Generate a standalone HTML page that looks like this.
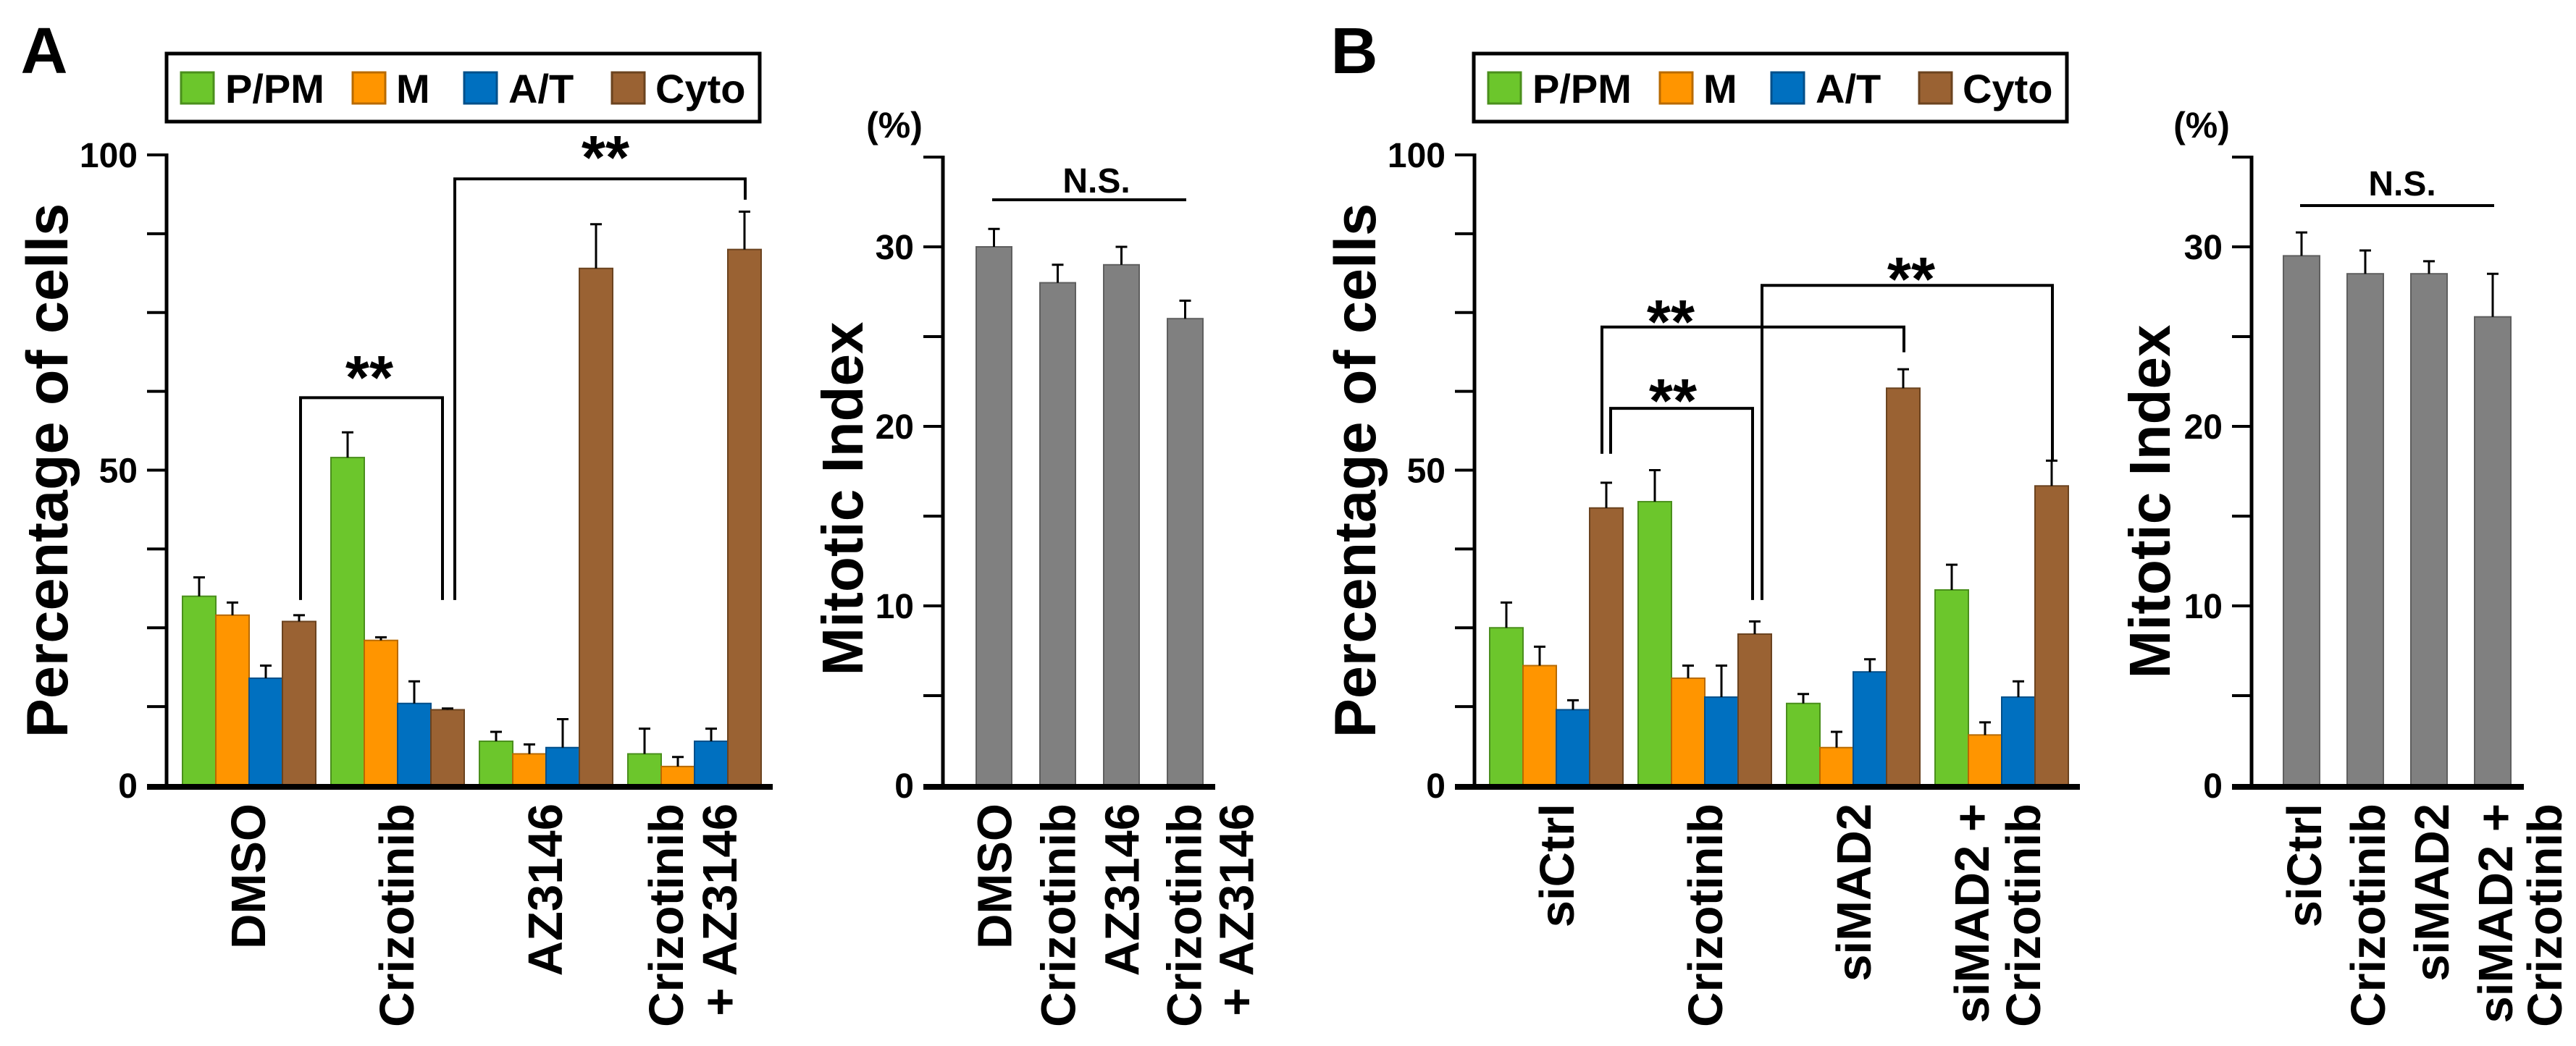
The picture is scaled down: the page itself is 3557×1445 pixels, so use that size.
<!DOCTYPE html>
<html><head><meta charset="utf-8"><style>
html,body{margin:0;padding:0;background:#fff;}
svg{display:block;font-family:"Liberation Sans",Arial,sans-serif;}
</style></head><body>
<svg id="fig" width="3557" height="1445" viewBox="0 0 3557 1445" xmlns="http://www.w3.org/2000/svg"></svg>
<script>
// ---------- data ----------
const seriesNames = ['P/PM','M','A/T','Cyto'];
const seriesColors = ['#6cc62c','#ff9500','#0070c0','#9a6233'];
const seriesEdges = ['#4a8f1c','#b86a00','#004f8a','#6b431f'];

const aCategories = [['DMSO'],['Crizotinib'],['AZ3146'],['Crizotinib','+ AZ3146']];
const aPPM = [30,52,7,5];
const aM = [27,23,5,3];
const aAT = [17,13,6,7];
const aCyto = [26,12,82,85];
const aPPMErr = [3,4,1.5,4];
const aMErr = [2,0.5,1.5,1.5];
const aATErr = [2,3.5,4.5,2];
const aCytoErr = [1,0.2,7,6];

const bCategories = [['siCtrl'],['Crizotinib'],['siMAD2'],['siMAD2 +','Crizotinib']];
const bPPM = [25,45,13,31];
const bM = [19,17,6,8];
const bAT = [12,14,18,14];
const bCyto = [44,24,63,47.5];
const bPPMErr = [4,5,1.5,4];
const bMErr = [3,2,2.5,2];
const bATErr = [1.5,5,2,2.5];
const bCytoErr = [4,2,3,4];

const pctTicks = [0,12.5,25,37.5,50,62.5,75,87.5,100];
const pctTickLabels = {0:'0',50:'50',100:'100'};
const miTicks = [0,5,10,15,20,25,30,35];
const miTickLabels = {0:'0',10:'10',20:'20',30:'30'};

const aMitotic = [30,28,29,26];
const aMitoticErr = [1,1,1,1];
const bMitotic = [29.5,28.5,28.5,26.1];
const bMitoticErr = [1.3,1.3,0.7,2.4];

// ---------- helpers ----------
const NS='http://www.w3.org/2000/svg';
const svg=document.getElementById('fig');
function el(tag,attrs,parent){const e=document.createElementNS(NS,tag);for(const k in attrs)e.setAttribute(k,attrs[k]);(parent||svg).appendChild(e);return e;}
function txt(str,x,y,fs,anchor,parent,extra){const t=el('text',Object.assign({x:x,y:y,'font-size':fs,'text-anchor':anchor||'start','font-weight':'bold',fill:'#000'},extra||{}),parent);t.textContent=str;return t;}

function drawGrouped(cfg){
  const g=el('g',{});
  
  
  const y=v=>cfg.y0-(v/cfg.max)*(cfg.y0-cfg.y100);
  const xBar=(gi,si)=>cfg.x0+gi*cfg.pitch+si*cfg.bw;
  cfg.series.forEach((vals,si)=>{
    vals.forEach((v,gi)=>{
      const x=xBar(gi,si);
      const r=el('rect',{x:x,y:y(v),width:cfg.bw,height:cfg.y0-y(v),fill:cfg.colors[si],stroke:cfg.edges[si],'stroke-width':2},g);
      
      
      const e=cfg.errs[si][gi];
      const cx=x+cfg.bw/2;
      const eb=el('path',{d:`M${cx},${y(v)} V${y(v+e)} M${cx-8},${y(v+e)} H${cx+8}`,stroke:'#000','stroke-width':3,fill:'none'},g);
      
      
    });
  });
  el('line',{x1:cfg.ax,y1:cfg.y0,x2:cfg.ax,y2:y(cfg.ticks[cfg.ticks.length-1])-2,stroke:'#000','stroke-width':5},g);
  el('line',{x1:cfg.ax-27,y1:cfg.y0+2,x2:cfg.axEnd,y2:cfg.y0+2,stroke:'#000','stroke-width':8},g);
  cfg.ticks.forEach(t=>{
    el('line',{x1:cfg.ax-27,y1:y(t),x2:cfg.ax,y2:y(t),stroke:'#000','stroke-width':4},g);
    if(cfg.tickLabels[t]!==undefined){
      const tl=txt(cfg.tickLabels[t],cfg.ax-40,y(t)+17,48,'end',g);
      
      
    }
  });
  const nb=cfg.series.length;
  cfg.cats.forEach((lines,gi)=>{
    const c=cfg.x0+gi*cfg.pitch+nb*cfg.bw/2;
    lines.forEach((ln,li)=>{
      const bx = lines.length>1 ? c+cfg.firstLine+li*cfg.lineGap : c+cfg.single;
      const t=txt(ln,0,0,67,'end',g,{transform:`translate(${bx},1110) rotate(-90)`});
      
      
    });
  });
  const yt=txt(cfg.title,0,0,cfg.titleSize,'middle',g,{transform:`translate(${cfg.titleX},${cfg.titleY}) rotate(-90)`});
  
  
  return {g,y,xBar};
}

function bracket(g,x1,yTop,x2,yL,yR,starsX,starsY,label,fs){
  const p=el('path',{d:`M${x1},${yL} V${yTop} H${x2} V${yR}`,stroke:'#000','stroke-width':4,fill:'none'},g);
  
  
  const t=txt(label,starsX,starsY,fs,'middle',g);
  
  
}

function legend(x,name){
  const g=el('g',{});
  
  
  el('rect',{x:x,y:74,width:819,height:94,fill:'#fff',stroke:'#000','stroke-width':5},g);
  const sw=[20,257,411,615];
  const tx=[81,317,472,675];
  seriesNames.forEach((n,i)=>{
    const r=el('rect',{x:x+sw[i],y:100,width:45,height:43,fill:seriesColors[i],stroke:seriesEdges[i],'stroke-width':3},g);
    
    
    const t=txt(n,x+tx[i],142,56,'start',g);
    
    
  });
}

// ---------- panel A ----------
const pa=txt('A',61,101,90,'middle',svg);

legend(230,'legend-a');
const A1=drawGrouped({name:'chart-a-phases',tag:'a',series:[aPPM,aM,aAT,aCyto],errs:[aPPMErr,aMErr,aATErr,aCytoErr],
  colors:seriesColors,edges:seriesEdges,cats:aCategories,x0:252,pitch:205,bw:46,ax:230,axEnd:1067,y0:1085,y100:214,max:100,
  ticks:pctTicks,tickLabels:pctTickLabels,title:'Percentage of cells',titleSize:81,titleX:93,titleY:650,firstLine:-16,lineGap:74,single:22});
{
  const y=A1.y;
  bracket(A1.g,415,y(61.5),611,y(29.4),y(29.4),510,551,'**',85);
  bracket(A1.g,628,y(96.2),1029,y(29.4),y(92.9),836,247,'**',85);
}
const A2=drawGrouped({name:'chart-a-mitotic-index',tag:'a-mi',series:[aMitotic],errs:[aMitoticErr],colors:['#808080'],edges:['#5f5f5f'],
  cats:aCategories,x0:1348,pitch:88,bw:49,ax:1302,axEnd:1678,y0:1085,y100:1085-35*24.8,max:35,
  ticks:miTicks,tickLabels:miTickLabels,title:'Mitotic Index',titleSize:80,titleX:1191,titleY:689,firstLine:22,lineGap:72,single:24});
{
  const y=A2.y;
  bracket(A2.g,1370,276,1638,276,276,1514,266,'N.S.',48);
  const p=txt('(%)',1235,190,50,'middle',A2.g);
  
}

// ---------- panel B ----------
const pb=txt('B',1870,101,90,'middle',svg);

legend(2035,'legend-b');
const B1=drawGrouped({name:'chart-b-phases',tag:'b',series:[bPPM,bM,bAT,bCyto],errs:[bPPMErr,bMErr,bATErr,bCytoErr],
  colors:seriesColors,edges:seriesEdges,cats:bCategories,x0:2057,pitch:205,bw:46,ax:2036,axEnd:2872,y0:1085,y100:214,max:100,
  ticks:pctTicks,tickLabels:pctTickLabels,title:'Percentage of cells',titleSize:81,titleX:1899,titleY:650,firstLine:-18,lineGap:71,single:24});
{
  const y=B1.y;
  bracket(B1.g,2224,y(59.8),2420,y(52.6),y(29.4),2310,583,'**',85);
  bracket(B1.g,2212,y(72.7),2629,y(52.6),y(68.7),2307,474,'**',85);
  bracket(B1.g,2433,y(79.3),2834,y(29.4),y(51.5),2639,415,'**',85);
}
const B2=drawGrouped({name:'chart-b-mitotic-index',tag:'b-mi',series:[bMitotic],errs:[bMitoticErr],colors:['#808080'],edges:['#5f5f5f'],
  cats:bCategories,x0:3153,pitch:88,bw:50,ax:3109,axEnd:3485,y0:1085,y100:1085-35*24.8,max:35,
  ticks:miTicks,tickLabels:miTickLabels,title:'Mitotic Index',titleSize:80,titleX:2996,titleY:693,firstLine:27,lineGap:68,single:27});
{
  const y=B2.y;
  bracket(B2.g,3176,284,3444,284,284,3317,270,'N.S.',48);
  const p=txt('(%)',3040,190,50,'middle',B2.g);
  
}
</script>
</body></html>
